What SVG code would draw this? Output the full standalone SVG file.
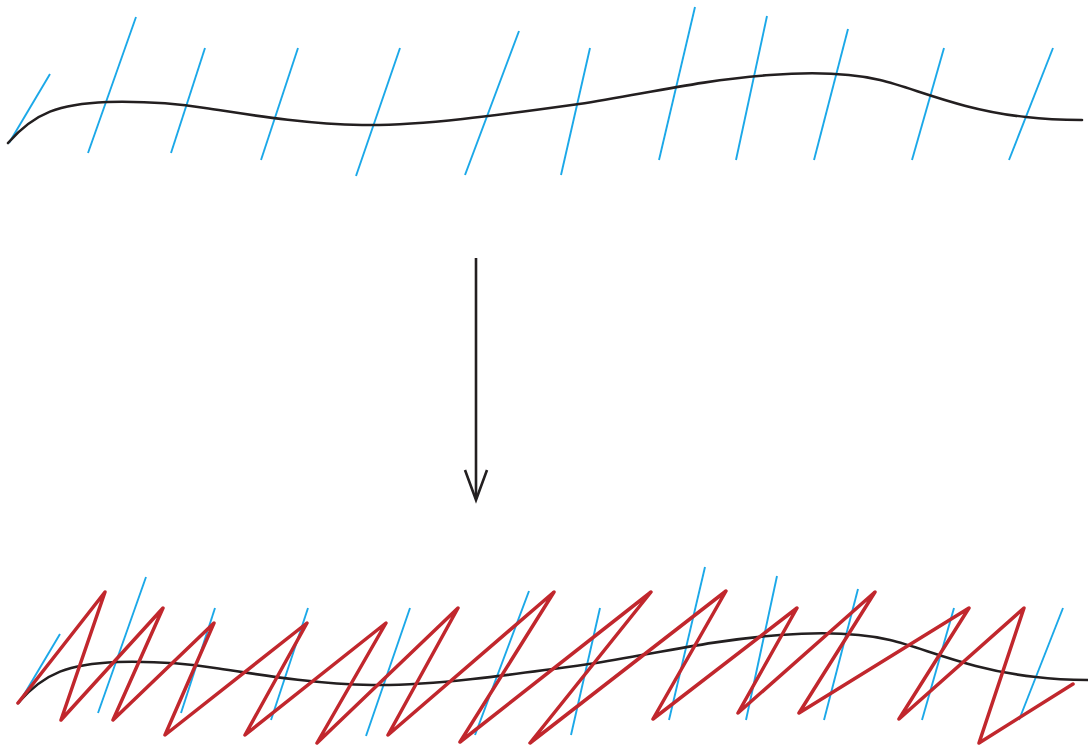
<svg xmlns="http://www.w3.org/2000/svg" width="1088" height="747" viewBox="0 0 1088 747">
<style>
.curve{fill:none;stroke:#231f20;stroke-width:2.6;stroke-linecap:round}
.hatch{stroke:#1ba8e8;stroke-width:1.9;stroke-linecap:butt}
.zig{fill:none;stroke:#c1272d;stroke-width:3.5;stroke-linejoin:round;stroke-linecap:round}
.arrow{fill:none;stroke:#231f20;stroke-width:2.6}
</style>
<defs>
<g id="base">
<g class="hatches">
<line class="hatch" x1="50" y1="74" x2="9" y2="143"/>
<line class="hatch" x1="136" y1="17" x2="88" y2="153"/>
<line class="hatch" x1="205" y1="48" x2="171" y2="153"/>
<line class="hatch" x1="298" y1="48" x2="261" y2="160"/>
<line class="hatch" x1="400" y1="48" x2="356" y2="176"/>
<line class="hatch" x1="519" y1="31" x2="465" y2="175"/>
<line class="hatch" x1="590" y1="48" x2="561" y2="175"/>
<line class="hatch" x1="695" y1="7" x2="659" y2="160"/>
<line class="hatch" x1="767" y1="16" x2="736" y2="160"/>
<line class="hatch" x1="848" y1="29" x2="814" y2="160"/>
<line class="hatch" x1="944" y1="48" x2="912" y2="160"/>
<line class="hatch" x1="1053" y1="48" x2="1009" y2="160"/>
</g>
<path class="curve" d="M8,143 C35,112 60,104 107,102 C150,101 180,104 205,108 C240,113 300,124 362,125 C420,126 500,115 579,104 C640,95 700,80 770,75 C810,72 850,73 880,80 C915,88.2 960,110 1026,117 C1050,120 1070,120 1082,120"/>
</g>
</defs>
<g id="top-curve">
<use href="#base"/>
</g>
<g id="connectors">
<line class="arrow" x1="476" y1="258" x2="476" y2="499"/>
<polyline class="arrow" points="465,470 476,500 487,470"/>
</g>
<g id="bottom-curve">
<use href="#base" transform="translate(10,560)"/>
<polyline class="zig" points="18,703 105,592 61,720 163,608 113,720 214,623 165,735 307,623 245,735 386,623 317,743 458,608 388,735 554,592 460,742 651,592 530,743 726,591 653,719 797,608 738,713 875,592 799,713 969,608 899,719 1024,608 979,743 1073,684"/>
</g>
</svg>
